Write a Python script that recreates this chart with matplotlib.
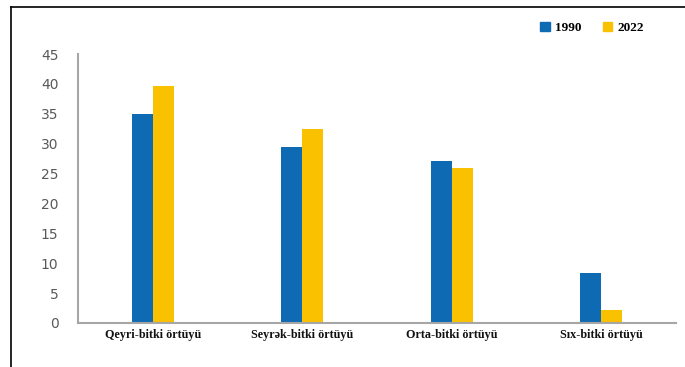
import matplotlib
matplotlib.use("Agg")
import matplotlib.pyplot as plt
import numpy as np
from matplotlib.lines import Line2D
from matplotlib.patches import Patch

categories = ["Qeyri-bitki örtüyü", "Seyrək-bitki örtüyü", "Orta-bitki örtüyü", "Sıx-bitki örtüyü"]
series_names = ["1990", "2022"]
values_1990 = [35.0, 29.4, 27.1, 8.4]
values_2022 = [39.6, 32.4, 25.9, 2.2]
yticks = [0, 5, 10, 15, 20, 25, 30, 35, 40, 45]

blue = "#0f6ab4"
yellow = "#f9c100"

fig = plt.figure(figsize=(6.85, 3.67), dpi=100)
ax = fig.add_axes([78/685, 1-323/367, (676-78)/685, (323-54)/367])

x = np.arange(len(categories)) + 0.5
w = 0.14
ax.bar(x - w/2, values_1990, width=w, color=blue, label=series_names[0])
ax.bar(x + w/2, values_2022, width=w, color=yellow, label=series_names[1])

ax.set_xlim(0, 4)
ax.set_ylim(0, 45)
ax.set_yticks(yticks)
ax.set_yticklabels([str(v) for v in yticks], fontsize=10, color="#595959", family="DejaVu Sans")
ax.tick_params(axis="y", length=0, pad=14)
ax.set_xticks(x)
ax.set_xticklabels(categories, fontsize=8.7, fontweight="bold", family="Liberation Serif", color="#111111")
ax.tick_params(axis="x", length=0, pad=4)

for s in ["top", "right"]:
    ax.spines[s].set_visible(False)
for s in ["left", "bottom"]:
    ax.spines[s].set_color("#a6a6a6")
    ax.spines[s].set_linewidth(1.5)

handles = [Patch(color=blue), Patch(color=yellow)]
leg = fig.legend(handles, series_names, loc="center", bbox_to_anchor=(592/685, 1-28/367),
                 ncol=2, frameon=False, handlelength=0.75, handleheight=0.75,
                 columnspacing=1.6, handletextpad=0.35,
                 prop={"family": "Liberation Serif", "weight": "bold", "size": 9.5})

# outer frame lines
fig.add_artist(Line2D([11/685, 11/685], [0, 1-7/367], transform=fig.transFigure, color="black", lw=1.2))
fig.add_artist(Line2D([11/685, 1], [1-7/367, 1-7/367], transform=fig.transFigure, color="black", lw=1.2))

fig.savefig("out.png", dpi=100)
